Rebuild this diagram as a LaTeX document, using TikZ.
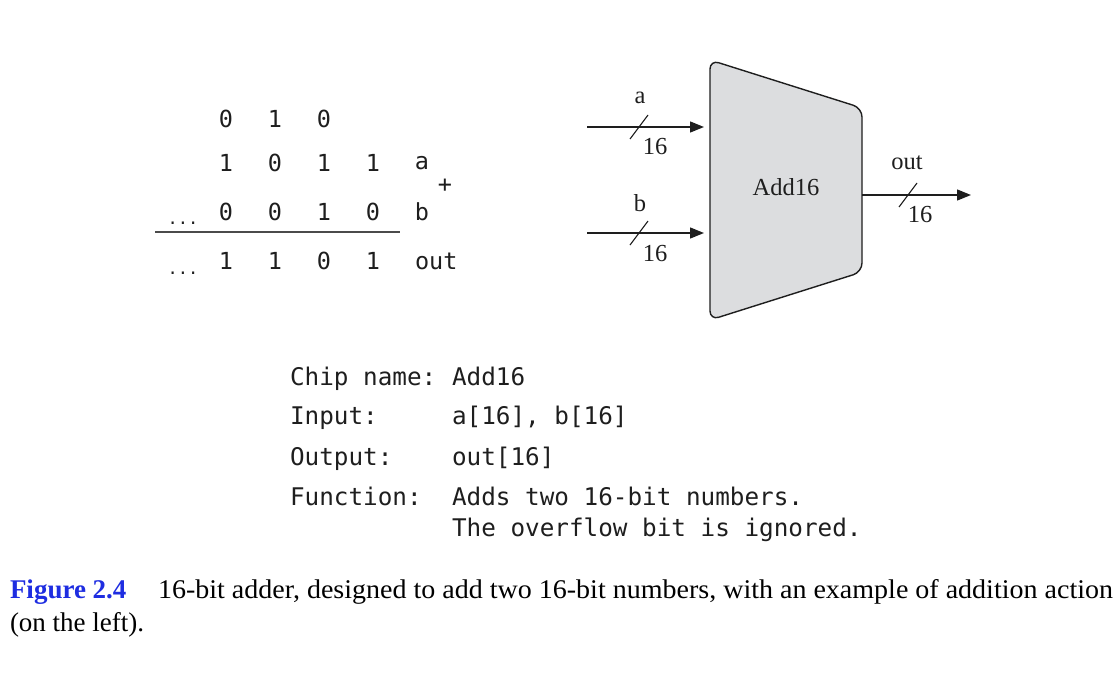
\documentclass[tikz,border=0pt]{standalone}
\usepackage{fontspec}
\setmainfont{Liberation Serif}
\setmonofont{DejaVu Sans Mono}
\usetikzlibrary{arrows.meta}
\definecolor{capblue}{RGB}{30,45,225}
\definecolor{chipfill}{RGB}{220,221,223}
\definecolor{ink}{RGB}{30,30,30}
\newlength\capw
\tikzset{
  mono/.style={font=\ttfamily\fontsize{23.5}{28}\selectfont, text=ink},
  spec/.style={font=\ttfamily\fontsize{24.3}{29}\selectfont, text=ink, anchor=base west},
  serif/.style={font=\fontsize{24.5}{28}\selectfont, text=ink},
  dots/.style={font=\ttfamily\fontsize{17}{20}\selectfont, text=ink, anchor=base},
  wire/.style={line width=1.4pt, draw=ink, -{Triangle[length=14pt,width=11pt]}},
  slashline/.style={line width=1.1pt, draw=ink},
  chipbox/.style={line width=1.4pt, draw=ink, fill=chipfill, rounded corners=9pt},
}
\begin{document}
\settowidth\capw{\fontsize{27}{33}\selectfont 16-bit adder, designed to add two 16-bit numbers, with an example of addition action}%
\pgfmathsetmacro\capsx{955/\capw}%
\begin{tikzpicture}[x=1pt,y=-1pt, every node/.style={inner sep=0pt, outer sep=0pt}]
\useasboundingbox (0,0) rectangle (1120,694);

% ---------- addition example ----------
\node[mono] (c1) at (226,119) {0};
\node[mono] (c2) at (275,119) {1};
\node[mono] (c3) at (324,119) {0};

\node[mono] (a1) at (226,163) {1};
\node[mono] (a2) at (275,163) {0};
\node[mono] (a3) at (324,163) {1};
\node[mono] (a4) at (373,163) {1};
\node[mono] (alab) at (422,163) {a};

\node[mono] (plus) at (445,186) {+};

\node[dots] (d1) at (183,224) {...};
\node[mono] (b1) at (226,211.5) {0};
\node[mono] (b2) at (275,211.5) {0};
\node[mono] (b3) at (324,211.5) {1};
\node[mono] (b4) at (373,211.5) {0};
\node[mono] (blab) at (422,211.5) {b};

\coordinate (ruleL) at (155,232);
\coordinate (ruleR) at (400,232);
\draw[line width=1.2pt, draw=ink!80] (ruleL) -- (ruleR);

\node[dots] (d2) at (183,274) {...};
\node[mono] (o1) at (226,261) {1};
\node[mono] (o2) at (275,261) {1};
\node[mono] (o3) at (324,261) {0};
\node[mono] (o4) at (373,261) {1};
\node[mono, anchor=west] (olab) at (415,261) {out};

% ---------- chip ----------
\coordinate (TL) at (710,60);
\coordinate (TR) at (862,108);
\coordinate (BR) at (862,272);
\coordinate (BL) at (710,320);
\path[chipbox] (TL) -- (TR) -- (BR) -- (BL) -- cycle;
\node[serif] (chip) at (786,187) {Add16};

\coordinate (ain) at (587,127);
\coordinate (aend) at (704,127);
\coordinate (bin) at (587,233);
\coordinate (bend) at (704,233);
\coordinate (oin) at (862,195);
\coordinate (oend) at (971,195);

\draw[wire] (ain) -- (aend);
\draw[wire] (bin) -- (bend);
\draw[wire] (oin) -- (oend);

\coordinate (as1) at (630,139);
\coordinate (as2) at (648,115);
\draw[slashline] (as1) -- (as2);
\coordinate (bs1) at (630,245);
\coordinate (bs2) at (648,221);
\draw[slashline] (bs1) -- (bs2);
\coordinate (os1) at (899,207);
\coordinate (os2) at (917,183);
\draw[slashline] (os1) -- (os2);

\node[serif] (alabel) at (640,98) {a};
\node[serif] (a16) at (655,147) {16};
\node[serif] (blabel) at (640,203) {b};
\node[serif] (b16) at (655,254) {16};
\node[serif] (olabel) at (907,163) {out};
\node[serif] (o16) at (920,215) {16};

% ---------- chip spec ----------
\node[spec] (s1a) at (290,385) {Chip name:};
\node[spec] (s1b) at (452,385) {Add16};
\node[spec] (s2a) at (290,424.5) {Input:};
\node[spec] (s2b) at (452,424.5) {a[16], b[16]};
\node[spec] (s3a) at (290,465) {Output:};
\node[spec] (s3b) at (452,465) {out[16]};
\node[spec] (s4a) at (290,505) {Function:};
\node[spec] (s4b) at (452,505) {Adds two 16-bit numbers.};
\node[spec] (s5b) at (452,536) {The overflow bit is ignored.};

% ---------- caption ----------
\node[anchor=base west, font=\fontsize{27}{33}\selectfont\bfseries, text=capblue] (fig) at (10,598) {Figure 2.4};
\node[anchor=base west, font=\fontsize{27}{33}\selectfont, text=black] (cap1) at (158,598) {\scalebox{\capsx}[1]{16-bit adder, designed to add two 16-bit numbers, with an example of addition action}};
\node[anchor=base west, font=\fontsize{27}{33}\selectfont, text=black] (cap2) at (10,631) {(on the left).};
\end{tikzpicture}
\end{document}
